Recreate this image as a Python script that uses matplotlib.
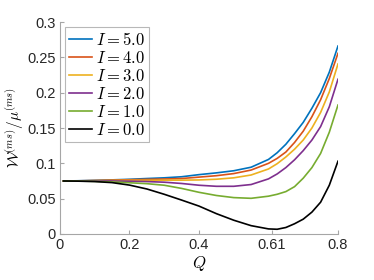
import matplotlib
matplotlib.use("Agg")
import matplotlib.pyplot as plt

plt.rcParams['font.family'] = ['Liberation Sans', 'DejaVu Sans']
plt.rcParams['mathtext.fontset'] = 'cm'

# Q grid and W/mu curves for each I
q = [0.01, 0.05, 0.1, 0.15, 0.2, 0.25, 0.3, 0.35, 0.4, 0.45, 0.5, 0.55,
     0.6, 0.625, 0.65, 0.675, 0.7, 0.725, 0.75, 0.775, 0.8]
w_i5 = [0.075, 0.0753, 0.0759, 0.0766, 0.0774, 0.0785, 0.0795, 0.081, 0.084, 0.0865, 0.0895, 0.0945,
        0.1055, 0.115, 0.127, 0.142, 0.158, 0.178, 0.200, 0.229, 0.266]
w_i4 = [0.075, 0.0752, 0.0757, 0.0763, 0.0768, 0.0773, 0.0778, 0.0785, 0.0805, 0.0825, 0.0855, 0.0905,
        0.100, 0.107, 0.116, 0.1295, 0.1455, 0.166, 0.190, 0.220, 0.2557]
w_i3 = [0.075, 0.0751, 0.0754, 0.0757, 0.0759, 0.076, 0.0761, 0.0762, 0.0765, 0.0775, 0.0795, 0.0835,
        0.092, 0.0995, 0.109, 0.120, 0.133, 0.150, 0.172, 0.201, 0.2406]
w_i2 = [0.075, 0.0751, 0.0751, 0.075, 0.0747, 0.0742, 0.0733, 0.0715, 0.069, 0.0675, 0.0675, 0.070,
        0.078, 0.085, 0.094, 0.105, 0.118, 0.133, 0.152, 0.180, 0.219]
w_i1 = [0.075, 0.0749, 0.0745, 0.0737, 0.0725, 0.0712, 0.069, 0.0645, 0.059, 0.0545, 0.0515, 0.0505,
        0.0535, 0.0562, 0.060, 0.067, 0.079, 0.094, 0.114, 0.144, 0.1825]
w_i0 = [0.075, 0.0748, 0.0742, 0.0727, 0.0692, 0.0637, 0.0562, 0.048, 0.0395, 0.0288, 0.0195, 0.0118,
        0.0072, 0.0067, 0.0092, 0.0145, 0.021, 0.031, 0.045, 0.069, 0.103]

series = [w_i5, w_i4, w_i3, w_i2, w_i1, w_i0]
labels = [r'$I=5.0$', r'$I=4.0$', r'$I=3.0$', r'$I=2.0$', r'$I=1.0$', r'$I=0.0$']
colors = ['#0072BD', '#D95319', '#EDB120', '#7E2F8E', '#77AC30', '#000000']

xticks = [0, 0.2, 0.4, 0.61, 0.8]
xticklabels = ['0', '0.2', '0.4', '0.61', '0.8']
yticks = [0, 0.05, 0.1, 0.15, 0.2, 0.25, 0.3]
yticklabels = ['0', '0.05', '0.1', '0.15', '0.2', '0.25', '0.3']

fig = plt.figure(figsize=(3.74, 2.80), dpi=100)
ax = fig.add_axes([0.1604, 0.1643, 0.7433, 0.7571])

for w, lab, c in zip(series, labels, colors):
    ax.plot(q, w, color=c, lw=1.2, label=lab)

ax.set_xlim(0, 0.8)
ax.set_ylim(0, 0.3)
ax.set_xticks(xticks)
ax.set_xticklabels(xticklabels)
ax.set_yticks(yticks)
ax.set_yticklabels(yticklabels)

for s in ['top', 'right']:
    ax.spines[s].set_visible(False)
for s in ['left', 'bottom']:
    ax.spines[s].set_color('#a6a6a6')
    ax.spines[s].set_linewidth(0.8)
ax.tick_params(direction='in', length=3, width=0.8, color='#a6a6a6',
               labelsize=10.5, labelcolor='#262626', pad=3)

ax.set_xlabel(r'$Q$', fontsize=12, labelpad=1)
ax.set_ylabel(r'$\mathcal{W}^{(ms)}/\mu^{(ms)}$', fontsize=11, labelpad=1)

leg = ax.legend(loc='upper left', fontsize=12, frameon=True, fancybox=False,
                edgecolor='#a6a6a6', handlelength=1.4, handletextpad=0.2,
                labelspacing=0.12, borderaxespad=0.3, borderpad=0.25)
leg.get_frame().set_linewidth(0.8)

fig.savefig('out.png', dpi=100)
